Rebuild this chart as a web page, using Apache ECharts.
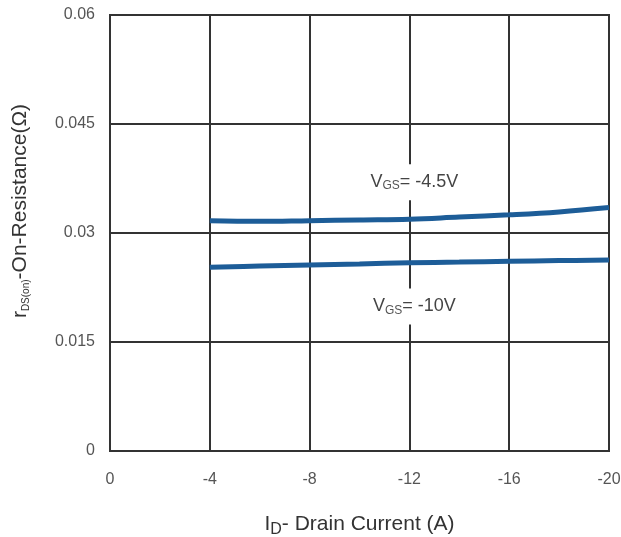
<!DOCTYPE html>
<html>
<head>
<meta charset="utf-8">
<script src="https://cdn.jsdelivr.net/npm/echarts@6/dist/echarts.min.js"></script>
<style>html,body{margin:0;padding:0;background:#fff;}#c{width:621px;height:537px;}</style>
</head>
<body>
<div id="c"></div>
<script>
// Drain current (A)
var currentsHigh = [-4, -6, -8, -10, -12, -14, -16, -18, -20];
var rdsVgs45 = [0.0317, 0.0316, 0.0317, 0.0318, 0.0319, 0.0322, 0.0325, 0.0329, 0.0335];
var currentsLow = [-4, -6, -8, -10, -12, -14, -16, -18, -20];
var rdsVgs10 = [0.0253, 0.02545, 0.0256, 0.02575, 0.0259, 0.0260, 0.0261, 0.0262, 0.0263];
var labelVgs45 = [-12.2, 0.0370];
var labelVgs10 = [-12.2, 0.0199];

function pairs(xs, ys) { return xs.map(function (x, i) { return [x, ys[i]]; }); }

var font = '"Liberation Sans", Arial, sans-serif';
var blue = '#1d5d98';
function annot(coord, main, sub, rest) {
  return {
    coord: coord,
    symbol: 'rect', symbolSize: 1, itemStyle: { color: 'rgba(0,0,0,0)' },
    label: {
      show: true, position: 'inside',
      formatter: '{m|' + main + '}{s|' + sub + '}{m|' + rest + '}',
      backgroundColor: '#fff', padding: [8, 3],
      rich: {
        m: { fontSize: 18, color: '#444', fontFamily: font },
        s: { fontSize: 12, color: '#555', fontFamily: font, verticalAlign: 'bottom', padding: [8, 0, 0, 0] }
      }
    }
  };
}

var chart = echarts.init(document.getElementById('c'));
chart.setOption({
  animation: false,
  backgroundColor: '#fff',
  grid: { left: 110, right: 12, top: 15, bottom: 86, outerBoundsMode: 'none', containLabel: false, show: true, borderColor: '#333', borderWidth: 2, backgroundColor: 'transparent' },
  xAxis: {
    type: 'value', min: -20, max: 0, interval: 4, inverse: true,
    axisLine: { show: false }, axisTick: { show: false },
    splitLine: { show: true, lineStyle: { color: '#333', width: 2 } },
    axisLabel: { color: '#555', fontSize: 16, fontFamily: font, margin: 21 },
    name: 'I{s|D}- Drain Current (A)',
    nameLocation: 'middle', nameGap: 59,
    nameTextStyle: {
      fontSize: 21, color: '#333', fontFamily: font,
      rich: { s: { fontSize: 16, color: '#333', fontFamily: font, verticalAlign: 'bottom', padding: [12, 0, 0, 0] } }
    }
  },
  yAxis: {
    type: 'value', min: 0, max: 0.06, interval: 0.015,
    axisLine: { show: false }, axisTick: { show: false },
    splitLine: { show: true, lineStyle: { color: '#333', width: 2 } },
    axisLabel: { color: '#555', fontSize: 16, fontFamily: font, margin: 15 },
    name: 'r{s|DS(on)}-On-Resistance(Ω)',
    nameLocation: 'middle', nameGap: 79,
    nameTextStyle: {
      fontSize: 21, color: '#333', fontFamily: font, padding: [0, 0, 0, 44],
      rich: { s: { fontSize: 10, color: '#333', fontFamily: font, verticalAlign: 'bottom', padding: [10, 0, 0, 0] } }
    }
  },
  series: [
    {
      type: 'line', data: pairs(currentsHigh, rdsVgs45), smooth: 0.4, showSymbol: false,
      lineStyle: { color: blue, width: 5 }, itemStyle: { color: blue },
      markPoint: { silent: true, data: [annot(labelVgs45, 'V', 'GS', '= -4.5V')] }
    },
    {
      type: 'line', data: pairs(currentsLow, rdsVgs10), smooth: 0.4, showSymbol: false,
      lineStyle: { color: blue, width: 5 }, itemStyle: { color: blue },
      markPoint: { silent: true, data: [annot(labelVgs10, 'V', 'GS', '= -10V')] }
    }
  ]
});
</script>
</body>
</html>
